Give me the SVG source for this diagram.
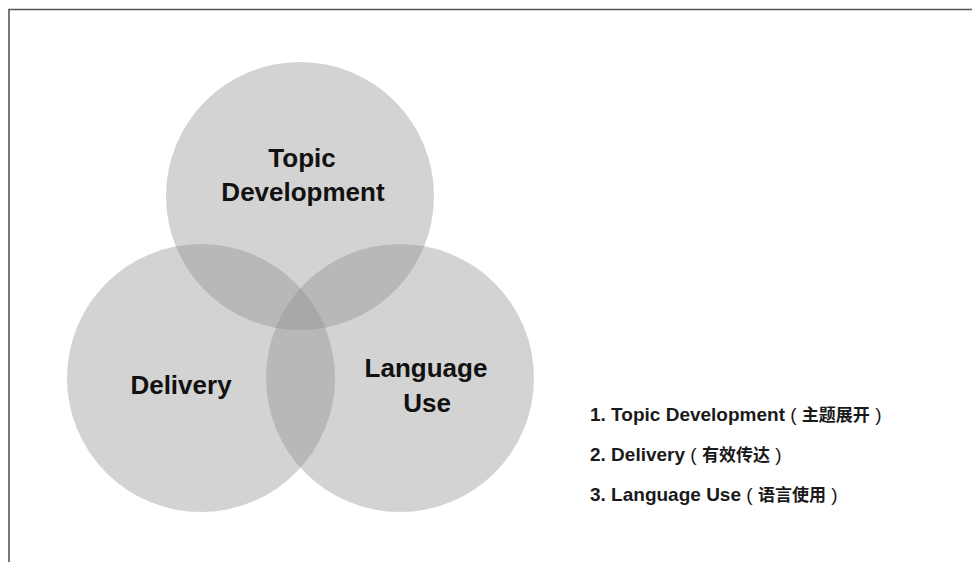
<svg xmlns="http://www.w3.org/2000/svg" width="972" height="562" viewBox="0 0 972 562">
<style>
.c{fill:#929292;fill-opacity:0.4;}
.lbl{font-family:"Liberation Sans",Arial,sans-serif;font-weight:bold;font-size:26px;fill:#111;text-anchor:middle;}
.leg{font-family:"Liberation Sans","Noto Sans CJK SC",sans-serif;font-weight:bold;font-size:19px;fill:#1a1a1a;}
.p{font-weight:normal;}
.cjk{font-family:"Noto Sans CJK SC",sans-serif;font-size:17px;font-weight:bold;}
.frame{fill:none;stroke:#555;stroke-width:1.6;}
</style>
<rect width="972" height="562" fill="#fff"/>
<path class="frame" d="M9,562 V9.5 H972"/>
<g id="topic">
<circle class="c" cx="300" cy="196" r="134"/>
<text class="lbl" x="302" y="167">Topic</text>
<text class="lbl" x="303" y="201">Development</text>
</g>
<g id="delivery">
<circle class="c" cx="201" cy="378" r="134"/>
<text class="lbl" x="181" y="394">Delivery</text>
</g>
<g id="language">
<circle class="c" cx="400" cy="378" r="134"/>
<text class="lbl" x="426" y="377">Language</text>
<text class="lbl" x="427" y="412">Use</text>
</g>
<g id="legend">
<text class="leg" x="590" y="421">1. Topic Development <tspan class="p">(</tspan> <tspan class="cjk">主题展开</tspan> <tspan class="p">)</tspan></text>
<text class="leg" x="590" y="461">2. Delivery <tspan class="p">(</tspan> <tspan class="cjk">有效传达</tspan> <tspan class="p">)</tspan></text>
<text class="leg" x="590" y="501">3. Language Use <tspan class="p">(</tspan> <tspan class="cjk">语言使用</tspan> <tspan class="p">)</tspan></text>
</g>
<g id="connectors"/>
</svg>
